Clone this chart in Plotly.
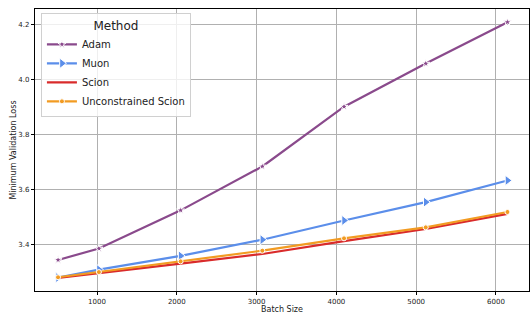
import plotly.graph_objects as go

batch_sizes = [512, 1024, 2048, 3072, 4096, 5120, 6144]
adam = [3.343, 3.385, 3.524, 3.684, 3.902, 4.059, 4.210]
muon = [3.279, 3.308, 3.358, 3.417, 3.487, 3.554, 3.633]
scion = [3.278, 3.296, 3.330, 3.365, 3.412, 3.456, 3.511]
unconstrained_scion = [3.280, 3.299, 3.338, 3.377, 3.422, 3.462, 3.518]

x_ticks = [1000, 2000, 3000, 4000, 5000, 6000]
y_ticks = [3.4, 3.6, 3.8, 4.0, 4.2]

series = [
    ("Adam", adam, "#8a4a8c", "star", 6),
    ("Muon", muon, "#5b8eea", "triangle-right", 9),
    ("Scion", scion, "#d92b2b", None, 0),
    ("Unconstrained Scion", unconstrained_scion, "#f29b22", "circle", 5),
]

fig = go.Figure()
for name, vals, color, sym, size in series:
    if sym:
        fig.add_trace(go.Scatter(
            x=batch_sizes, y=vals, name=name, mode="lines+markers",
            line=dict(color=color, width=2.2),
            marker=dict(symbol=sym, size=size, color=color,
                        line=dict(color="white", width=1)),
        ))
    else:
        fig.add_trace(go.Scatter(
            x=batch_sizes, y=vals, name=name, mode="lines",
            line=dict(color=color, width=2.2),
        ))

axis_common = dict(
    showgrid=True, gridcolor="#b0b0b0", gridwidth=1,
    showline=True, linecolor="black", linewidth=1.2, mirror=True,
    ticks="outside", ticklen=3, tickcolor="black",
    tickfont=dict(family="DejaVu Sans", size=7, color="#222"),
    zeroline=False,
)

fig.update_layout(
    width=530, height=314,
    margin=dict(l=35, r=1, t=9, b=23),
    paper_bgcolor="white", plot_bgcolor="white",
    font=dict(family="DejaVu Sans", color="#222"),
    xaxis=dict(**axis_common, range=[223, 6414], tickvals=x_ticks,
               title=dict(text="Batch Size", font=dict(size=8), standoff=2)),
    yaxis=dict(**axis_common, range=[3.230, 4.258], tickvals=y_ticks,
               tickformat=".1f",
               title=dict(text="Minimum Validation Loss", font=dict(size=8), standoff=0)),
    legend=dict(
        x=0.012, y=0.985, xanchor="left", yanchor="top",
        bgcolor="rgba(255,255,255,0.8)", bordercolor="#d0d0d0", borderwidth=1,
        font=dict(family="DejaVu Sans", size=10, color="#222"),
        title=dict(text="Method", side="top center", font=dict(size=12)),
        tracegroupgap=0, itemwidth=30,
    ),
    showlegend=True,
)

fig.write_html("out.html")
